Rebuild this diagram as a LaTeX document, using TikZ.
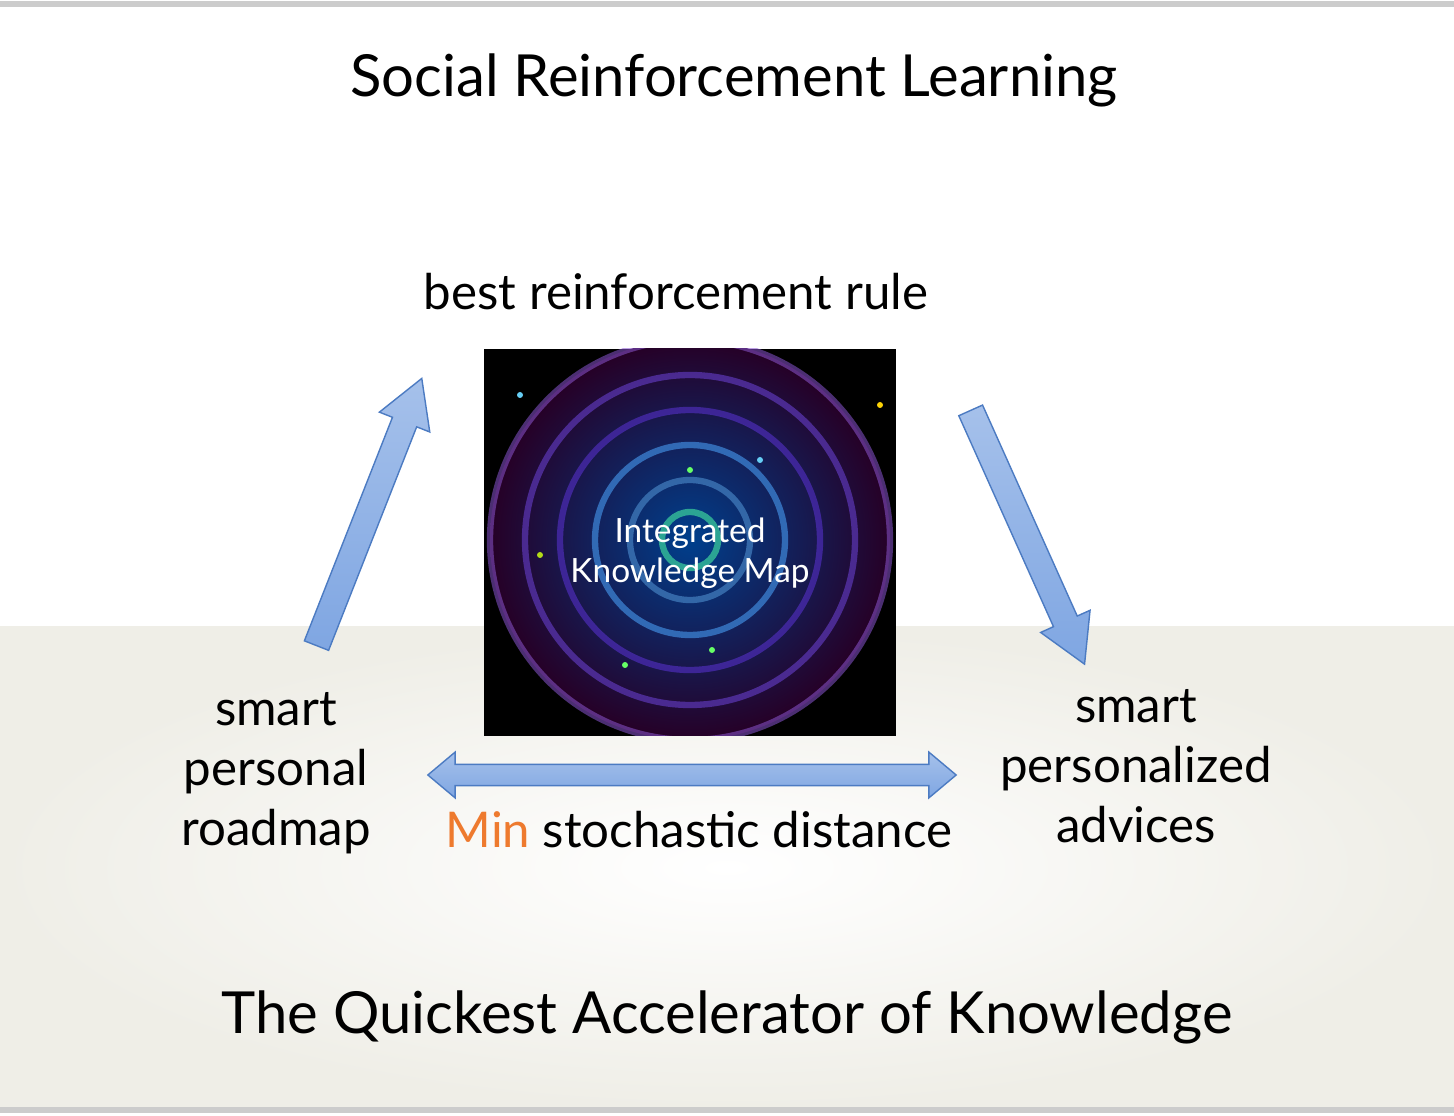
\documentclass[tikz,border=0pt]{standalone}
\usepackage{fontspec}
\setmainfont{Lato}
\usetikzlibrary{shapes.arrows, shadings}
\definecolor{arrowFill}{HTML}{7FA6E2}
\definecolor{arrowLine}{HTML}{4C7BC2}
\definecolor{floorGray}{HTML}{EFEEE7}
\definecolor{minOrange}{HTML}{EE7A2E}
\definecolor{ringPurple}{HTML}{8A55D0}
\tikzset{
  bigarrow/.style={single arrow, draw=arrowLine, top color=arrowFill!70!white, bottom color=arrowFill,
    single arrow head extend=4pt, single arrow tip angle=60, inner xsep=0pt, inner ysep=3.5pt},
  twoarrow/.style={double arrow, draw=arrowLine, top color=arrowFill!70!white, bottom color=arrowFill,
    double arrow head extend=3.5pt, double arrow tip angle=80, inner xsep=0pt, inner ysep=2.8pt},
  label/.style={align=center, font=\fontsize{14}{17}\selectfont}
}
\begin{document}
\begin{tikzpicture}[x=0.01cm, y=-0.01cm]
\useasboundingbox (0,0) rectangle (1454,1116);
% background
\fill[white] (0,0) rectangle (1454,627);
\shade[inner color=white, outer color=floorGray] (0,627) rectangle (1454,1108);
\draw[gray!40, line width=1.5pt] (0,4) -- (1454,4);
\draw[gray!40, line width=1.5pt] (0,1110) -- (1454,1110);
% texts
\node (title) at (734,80) {\fontsize{16.5}{20}\selectfont Social Reinforcement Learning};
\node[label] (rule) at (676,292) {best reinforcement rule};
\node[label] (roadmap) at (276,773) {smart\\personal\\roadmap};
\node[label] (advices) at (1136,766) {smart\\personalized\\advices};
\node[label] (dist) at (699,830) {\textcolor{minOrange}{Min} stochastic distance};
\node (tagline) at (727,1017) {\fontsize{16.5}{20}\selectfont The Quickest Accelerator of Knowledge};
% knowledge map
\fill[black] (484,349) rectangle (896,736);
\begin{scope}
\clip (484,349) rectangle (896,736);
\shade[inner color=cyan!45!blue!55!black, outer color=violet!30!black] (690,540) circle (200);
\foreach \r/\c in {200/ringPurple, 165/ringPurple!80!blue, 130/blue!60!violet!80, 95/blue!50!cyan!70, 60/cyan!60!blue!70, 28/green!50!cyan!70}
  \draw[\c, line width=1.8pt, opacity=0.55] (690,540) circle (\r);
\foreach \p/\c in {{(880,405)}/yellow!70!orange, {(540,555)}/yellow!70!green, {(712,650)}/green!60, {(625,665)}/green!60, {(690,470)}/green!60, {(760,460)}/cyan!60, {(520,395)}/cyan!60}
  \fill[\c] \p circle (3);
\end{scope}
\node[white, align=center, font=\fontsize{9.5}{11.5}\selectfont] (map) at (690,553) {Integrated\\Knowledge Map};
% arrows
\coordinate (upA) at (312,657); \coordinate (upB) at (418,388);
\coordinate (dnA) at (966,400); \coordinate (dnB) at (1080,654);
\coordinate (hzA) at (428,775); \coordinate (hzB) at (956,775);
\path (upA) -- (upB) node[midway, sloped, bigarrow, minimum height=2.87cm] {};
\path (dnA) -- (dnB) node[midway, sloped, bigarrow, minimum height=2.78cm] {};
\path (hzA) -- (hzB) node[midway, twoarrow, minimum height=5.28cm] {};
\end{tikzpicture}
\end{document}
